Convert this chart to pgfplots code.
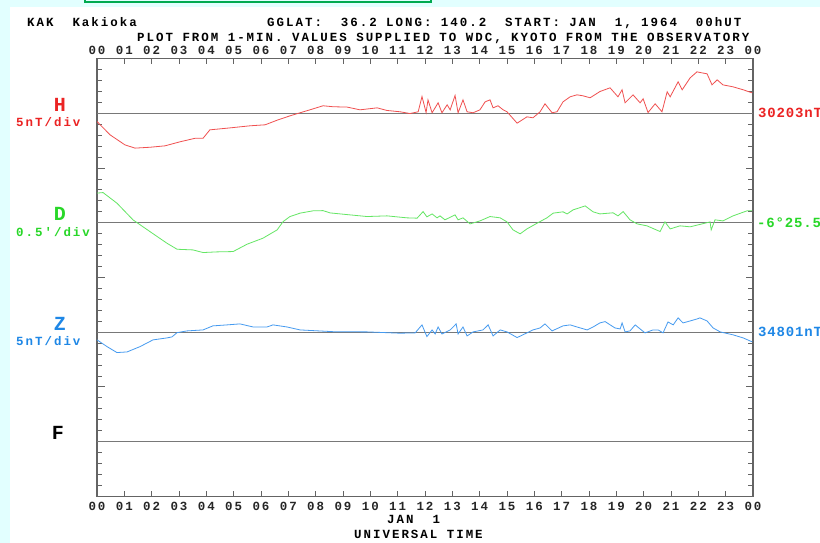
\documentclass[border=0pt]{standalone}
\usepackage{pgfplots}
\pgfplotsset{compat=1.18}
\usepackage{pgfplotstable}
\usepackage{fontspec}
\setmainfont{Liberation Mono}[LetterSpace=16]
\newfontfamily\rfont{Liberation Mono}[LetterSpace=6]
\newcommand\mf[1]{\fontsize{#1}{#1}\selectfont\bfseries\spaceskip=0.76em\relax}
\newcommand\rf{\rfont\fontsize{14}{14}\selectfont\bfseries}
\definecolor{bgc}{RGB}{226,255,255}
\definecolor{boxgreen}{RGB}{0,170,80}
\definecolor{axgray}{RGB}{100,100,100}
\definecolor{lngray}{RGB}{120,120,120}
\definecolor{tred}{RGB}{235,35,35}
\definecolor{tgreen}{RGB}{40,215,40}
\definecolor{tblue}{RGB}{30,135,230}
\definecolor{cred}{RGB}{240,80,80}
\definecolor{cgreen}{RGB}{100,230,100}
\definecolor{cblue}{RGB}{70,155,240}

\pgfplotstableread{
h d
0 34.25
0.48 33.03
1.02 32.12
1.39 31.82
1.94 31.9
2.49 32.03
3.04 32.4
3.59 32.72
3.88 32.72
4.13 33.49
4.87 33.67
5.6 33.86
6.15 33.95
6.62 34.4
7.06 34.77
7.43 35.05
7.79 35.32
8.27 35.69
8.64 35.6
9.15 35.57
9.62 35.32
10.25 35.5
10.61 35.26
11.09 35.14
11.45 34.98
11.75 35.14
11.89 36.54
12.04 35.07
12.11 36.23
12.26 35.05
12.48 35.96
12.62 35.05
12.81 35.78
12.92 35.32
13.1 36.63
13.21 35.05
13.39 36.23
13.54 35.14
13.76 35.05
14.01 35.32
14.2 36.05
14.38 36.23
14.49 35.5
14.67 35.69
14.86 35.32
15.0 35.14
15.37 34.1
15.73 34.68
15.95 34.59
16.21 35.14
16.39 35.87
16.65 35.05
16.83 35.14
17.05 36.05
17.31 36.51
17.56 36.69
17.78 36.6
18.04 36.42
18.4 36.99
18.77 37.33
19.06 36.51
19.21 37.15
19.32 35.96
19.61 36.69
19.87 35.96
19.98 36.33
20.16 35.07
20.42 35.87
20.67 35.14
20.86 36.97
20.97 36.51
21.26 37.88
21.41 37.15
21.7 38.24
21.95 38.79
22.06 38.73
22.32 38.61
22.5 37.6
22.69 38.06
22.9 37.6
23.27 37.42
23.64 37.15
23.97 36.87
}\Hdata

\pgfplotstableread{
h d
0 27.71
0.22 27.76
0.73 26.79
1.32 25.26
1.94 24.19
2.56 23.13
2.93 22.58
3.51 22.52
3.88 22.28
4.39 22.34
4.98 22.37
5.49 23.04
6.07 23.59
6.59 24.35
6.81 25.11
7.06 25.57
7.43 25.88
7.9 26.09
8.27 26.11
8.53 25.9
9.26 25.72
9.88 25.57
10.61 25.63
11.34 25.45
11.71 25.42
11.93 26.02
12.07 25.54
12.26 25.81
12.44 25.45
12.55 25.63
12.73 25.27
13.1 25.72
13.21 25.27
13.39 25.45
13.65 24.9
14.01 25.17
14.38 25.57
14.75 25.45
15.0 25.08
15.22 24.35
15.48 23.99
15.73 24.44
16.1 24.96
16.46 25.45
16.69 25.88
17.05 26.0
17.2 25.81
17.42 26.18
17.86 26.54
18.15 26.0
18.4 25.81
18.88 25.91
19.06 25.63
19.25 26.02
19.5 25.27
19.76 24.9
20.12 24.72
20.6 24.2
20.78 25.08
20.97 24.44
21.33 24.72
21.7 24.63
22.06 24.85
22.43 25.08
22.47 24.35
22.61 25.27
22.9 25.17
23.27 25.63
23.78 26.09
23.97 26.09
}\Ddata

\pgfplotstableread{
h d
0 14.3
0.37 13.68
0.73 13.14
1.1 13.2
1.57 13.68
2.05 14.3
2.56 14.48
2.74 14.57
2.93 14.96
3.29 15.12
3.88 15.21
4.24 15.58
4.76 15.67
5.23 15.76
5.71 15.48
6.22 15.48
6.44 15.67
6.95 15.48
7.43 15.21
8.64 15.05
9.88 15.03
11.09 14.91
11.64 14.94
11.89 15.67
12.07 14.6
12.26 15.21
12.37 14.84
12.48 15.48
12.62 14.84
12.92 15.21
13.14 15.76
13.21 14.84
13.39 15.48
13.54 14.66
13.76 15.03
14.12 15.21
14.31 15.67
14.49 14.66
14.75 15.21
15.0 15.03
15.37 14.51
15.73 14.94
15.95 15.21
16.21 15.39
16.39 15.76
16.65 15.12
17.05 15.58
17.31 15.67
17.56 15.48
17.93 15.21
18.15 15.48
18.4 15.85
18.59 15.97
18.95 15.39
19.14 15.3
19.21 15.85
19.32 15.03
19.5 15.12
19.69 15.67
19.87 15.3
20.05 14.94
20.34 15.21
20.53 15.21
20.71 14.94
20.89 15.94
21.08 15.67
21.26 16.31
21.44 15.85
21.7 16.03
21.95 16.21
22.06 16.31
22.32 16.03
22.54 15.39
22.8 15.03
23.27 14.76
23.64 14.48
23.97 14.12
}\Zdata

\begin{document}
\begin{tikzpicture}
\useasboundingbox (0pt,0pt) rectangle (820pt,543pt);
\fill[bgc] (0pt,0pt) rectangle (820pt,543pt);
\fill[white] (10pt,0pt) rectangle (820pt,536pt);
\draw[boxgreen, line width=2pt] (85pt,548pt) -- (85pt,540.5pt) -- (431pt,540.5pt) -- (431pt,548pt);

\begin{axis}[
  scale only axis, width=656pt, height=437.8pt,
  at={(97pt,46.6pt)}, anchor=south west,
  xmin=0, xmax=24, ymin=0, ymax=40,
  axis line style={draw=axgray, line width=1.3pt},
  tick align=inside,
  xtick={0,...,24},
  xticklabels={00,01,02,03,04,05,06,07,08,09,10,11,12,13,14,15,16,17,18,19,20,21,22,23,00},
  xticklabel style={font=\mf{12.45}, text=black!85, inner sep=0pt, anchor=north, yshift=-6pt},
  ytick={0,...,40}, yticklabel={\relax},
  extra y ticks={10,20,30}, extra y tick labels={},
  extra y tick style={/pgfplots/major tick length=7.5pt, yticklabel={\relax}},
  major tick length=5pt,
  tick style={draw=axgray, line width=0.9pt},
  /pgf/number format/assume math mode=true,
]
\addplot[lngray, line width=1.2pt] coordinates {(0,35) (24,35)};
\addplot[lngray, line width=1.2pt] coordinates {(0,25) (24,25)};
\addplot[lngray, line width=1.2pt] coordinates {(0,15) (24,15)};
\addplot[lngray, line width=1.2pt] coordinates {(0,5) (24,5)};
\addplot[cred, line width=0.8pt] table[x=h, y=d] {\Hdata};
\addplot[cgreen, line width=0.8pt] table[x=h, y=d] {\Ddata};
\addplot[cblue, line width=0.8pt] table[x=h, y=d] {\Zdata};
\end{axis}

\begin{axis}[
  scale only axis, width=656pt, height=437.8pt,
  at={(97pt,46.6pt)}, anchor=south west,
  xmin=0, xmax=24, ymin=0, ymax=40,
  axis line style={draw=none},
  xtick={0,...,24},
  xticklabels={00,01,02,03,04,05,06,07,08,09,10,11,12,13,14,15,16,17,18,19,20,21,22,23,00},
  xticklabel pos=right,
  xticklabel style={font=\mf{12.45}, text=black!85, inner sep=0pt, anchor=south, yshift=3.6pt},
  ytick=\empty, major tick length=0pt, tick style={draw=none},
]
\end{axis}

\begin{scope}[every node/.style={inner sep=0pt}]
\node[anchor=base west, font=\mf{12.45}] at (27pt,516pt) {KAK\ \ Kakioka};
\node[anchor=base west, font=\mf{12.45}] at (267pt,516pt) {GGLAT:\ \ 36.2 LONG: 140.2\ \ START: JAN\ \ 1, 1964\ \ 00hUT};
\node[anchor=base west, font=\mf{12.45}] at (137pt,501pt) {PLOT FROM 1-MIN. VALUES SUPPLIED TO WDC, KYOTO FROM THE OBSERVATORY};
\node[anchor=base west, font=\mf{12.45}] at (387pt,19.5pt) {JAN\ \ 1};
\node[anchor=base west, font=\mf{12.45}] at (354pt,4.5pt) {UNIVERSAL TIME};

\node[anchor=base, font=\mf{20}, text=tred] at (60pt,431.3pt) {H};
\node[anchor=base west, font=\mf{12.45}, text=tred] at (16pt,416.5pt) {5nT/div};
\node[anchor=base, font=\mf{20}, text=tgreen] at (60pt,322pt) {D};
\node[anchor=base west, font=\mf{12.45}, text=tgreen] at (16pt,306.5pt) {0.5′/div};
\node[anchor=base, font=\mf{20}, text=tblue] at (60pt,212.3pt) {Z};
\node[anchor=base west, font=\mf{12.45}, text=tblue] at (16pt,197pt) {5nT/div};
\node[anchor=base, font=\mf{20}, text=black] at (58pt,103pt) {F};

\node[anchor=west, font=\rf, text=tred] at (758pt,429.7pt) {30203nT};
\node[anchor=west, font=\rf, text=tgreen] at (757pt,320.3pt) {-6°25.5};
\node[anchor=west, font=\rf, text=tblue] at (758pt,211pt) {34801nT};
\end{scope}
\end{tikzpicture}
\end{document}
